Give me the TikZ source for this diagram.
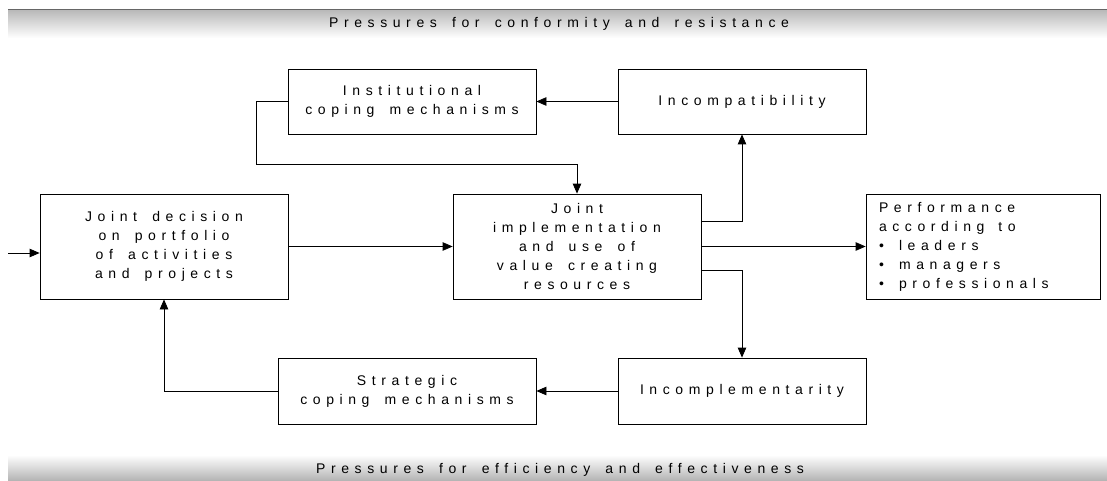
\documentclass[tikz,border=0pt]{standalone}
\usepackage{fontspec}
\setmainfont{Liberation Sans}
\newfontfamily\spaced{Liberation Sans}[LetterSpace=40,WordSpace=1.6]
\usetikzlibrary{arrows.meta}

\begin{document}
\begin{tikzpicture}[x=1pt,y=-1pt,
  txt/.style={font=\spaced\fontsize{14}{19}\selectfont},
  box/.style={txt, draw=black, line width=0.8pt, minimum width=248pt,
    minimum height=65pt, align=center, inner sep=0pt},
  link/.style={draw=black, line width=0.8pt},
  arr/.style={link, -{Triangle[length=10pt,width=8.5pt]}},
]
\useasboundingbox (0,0) rectangle (1107,481);

% shaded bands at top and bottom
\shade[top color=gray!55, bottom color=white] (8,10) rectangle (1107,38);
\draw[gray!80!black, line width=1.2pt] (8,9.5) -- (1107,9.5);
\shade[top color=white, bottom color=gray!60] (8,455) rectangle (1107,481);
\node[txt] (conf) at (559,24) {Pressures for conformity and resistance};
\node[txt] (eff) at (560,470) {Pressures for efficiency and effectiveness};

% boxes
\node[box] (inst) at (412,101.5) {Institutional\\coping mechanisms};
\node[box] (incompat) at (742,101.5) {Incompatibility};
\node[box, minimum height=105pt] (dec) at (164,246.5)
  {Joint decision\\on portfolio\\of activities\\and projects};
\node[box, minimum height=105pt] (impl) at (577,246.5)
  {Joint\\implementation\\and use of\\value creating\\resources};
\node[box, minimum height=105pt, minimum width=234pt, text width=208pt,
  inner xsep=13pt, align=left] (perf) at (983,246.5)
  {Performance\\according\hspace{14pt}to\\
   \makebox[20pt][l]{\textbullet}leaders\\
   \makebox[20pt][l]{\textbullet}managers\\
   \makebox[20pt][l]{\textbullet}professionals};
\node[box, minimum width=258pt, minimum height=66pt] (strat) at (407,391)
  {Strategic\\coping mechanisms};
\node[box, minimum height=66pt] (incompl) at (742,391) {Incomplementarity};

% connectors
\coordinate (in) at (8,253);
\draw[arr] (in) -- (dec.west |- in);
\draw[arr] (dec.east) -- (impl.west);
\draw[arr] (impl.east) -- (perf.west);
\draw[arr] (incompat.west) -- (inst.east);
\draw[arr] (inst.west) -- (256,101.5) -- (256,164) -- (impl.north |- 0,164) -- (impl.north);
\draw[arr] (impl.east |- 0,221) -- (incompat.south |- 0,221) -- (incompat.south);
\draw[arr] (impl.east |- 0,270) -- (incompl.north |- 0,270) -- (incompl.north);
\draw[arr] (incompl.west) -- (strat.east);
\draw[arr] (strat.west) -- (dec.south |- strat.west) -- (dec.south);
\end{tikzpicture}
\end{document}
